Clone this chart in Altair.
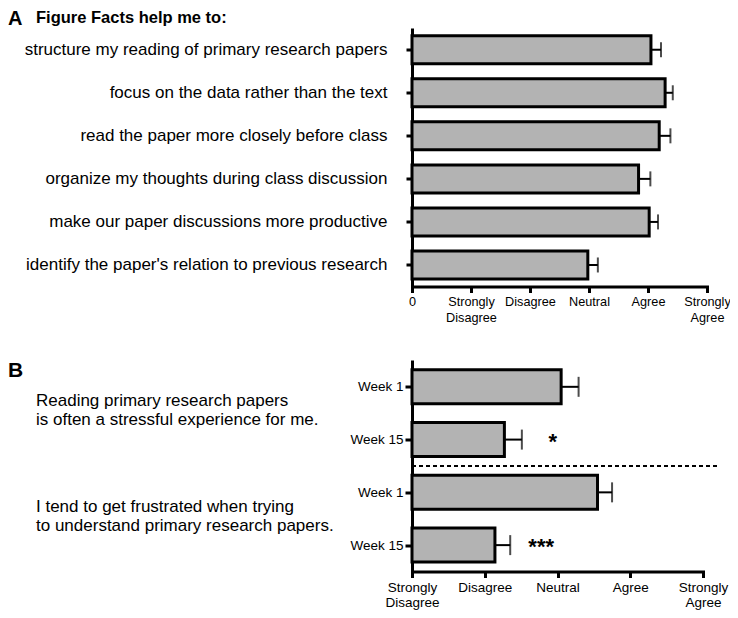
import json
import altair as alt
import pandas as pd

FONT = "Liberation Sans"

# ---------------- data ----------------
panel_a_letter = "A"
panel_a_title = "Figure Facts help me to:"
a_items = [
    "structure my reading of primary research papers",
    "focus on the data rather than the text",
    "read the paper more closely before class",
    "organize my thoughts during class discussion",
    "make our paper discussions more productive",
    "identify the paper's relation to previous research",
]
a_means = [4.05, 4.29, 4.19, 3.84, 4.02, 2.98]
a_sems = [0.17, 0.13, 0.19, 0.20, 0.15, 0.17]
a_tick_values = [0, 1, 2, 3, 4, 5]
a_tick_labels = [["0"], ["Strongly", "Disagree"], ["Disagree"], ["Neutral"], ["Agree"], ["Strongly", "Agree"]]

panel_b_letter = "B"
b_questions = [
    "Reading primary research papers\nis often a stressful experience for me.",
    "I tend to get frustrated when trying\nto understand primary research papers.",
]
b_weeks = ["Week 1", "Week 15", "Week 1", "Week 15"]
b_question_of_row = [0, 0, 1, 1]
b_means = [3.05, 2.27, 3.55, 2.14]
b_sems = [0.24, 0.24, 0.20, 0.21]
b_stars = ["", "*", "", "***"]
b_tick_values = [1, 2, 3, 4, 5]
b_tick_labels = [["Strongly", "Disagree"], ["Disagree"], ["Neutral"], ["Agree"], ["Strongly", "Agree"]]

# ---------------- frames ----------------
dfa = pd.DataFrame({"row": list(range(len(a_items))), "item": a_items, "mean": a_means, "sem": a_sems})
dfa["upper"] = dfa["mean"] + dfa["sem"]

dfb = pd.DataFrame({"row": list(range(len(b_weeks))), "week": b_weeks, "mean": b_means,
                    "sem": b_sems, "star": b_stars, "q": b_question_of_row})
dfb["upper"] = dfb["mean"] + dfb["sem"]
dfq = dfb.groupby("q", as_index=False)["row"].mean()
dfq["text"] = [b_questions[i] for i in dfq["q"]]
sep = pd.DataFrame({"pos": [dfb[dfb.q == 0]["row"].max() + 0.5]})

BAR_FILL = "#b3b3b3"


def xaxis(values, labels, offset, size, lh):
    expr = json.dumps(labels) + "[datum.value - %d]" % offset
    return alt.Axis(values=values, labelExpr=expr, title=None, labelAlign="center",
                    labelBaseline="top", labelPadding=3, labelFontSize=size,
                    labelLineHeight=lh, tickSize=6)


# ---------------- panel A ----------------
xa_scale = alt.Scale(domain=[0, 5], nice=False, zero=False, padding=0)
ya_scale = alt.Scale(domain=[-0.47, 5.5], reverse=True, nice=False, zero=False, padding=0)
ya_axis = alt.Axis(values=list(range(len(a_items))), labelExpr=json.dumps(a_items) + "[datum.value]",
                   title=None, labelFontSize=17, labelPadding=19, tickSize=6, labelLimit=1000)

a_base = alt.Chart(dfa)
a_bars = a_base.mark_bar(orient="horizontal", size=28, fill=BAR_FILL, stroke="black", strokeWidth=3).encode(
    x=alt.X("mean:Q", scale=xa_scale, axis=xaxis(a_tick_values, a_tick_labels, 0, 12.7, 15.5)),
    x2=alt.datum(0),
    y=alt.Y("row:Q", scale=ya_scale, axis=ya_axis),
)
a_err = a_base.mark_rule(color="black", strokeWidth=2).encode(x="mean:Q", x2="upper:Q", y="row:Q")
a_cap = a_base.mark_tick(orient="vertical", size=15, thickness=2, color="black").encode(x="upper:Q", y="row:Q")
a_letter = alt.Chart(pd.DataFrame({"t": [panel_a_letter]})).mark_text(
    align="left", baseline="alphabetic", font=FONT, fontWeight="bold", fontSize=20, color="black"
).encode(text="t:N", x=alt.value(-404), y=alt.value(-4.5))
a_title = alt.Chart(pd.DataFrame({"t": [panel_a_title]})).mark_text(
    align="left", baseline="alphabetic", font=FONT, fontWeight="bold", fontSize=16.5, color="black"
).encode(text="t:N", x=alt.value(-376), y=alt.value(-7))

panel_a = alt.layer(a_bars, a_err, a_cap, a_letter, a_title).properties(width=295, height=257)

# ---------------- panel B ----------------
xb_scale = alt.Scale(domain=[1, 5], nice=False, zero=False, padding=0)
yb_scale = alt.Scale(domain=[-0.48, 3.5], reverse=True, nice=False, zero=False, padding=0)
yb_axis = alt.Axis(values=list(range(len(b_weeks))), labelExpr=json.dumps(b_weeks) + "[datum.value]",
                   title=None, labelFontSize=13.5, labelPadding=2, tickSize=7)

b_base = alt.Chart(dfb)
b_bars = b_base.mark_bar(orient="horizontal", size=34, fill=BAR_FILL, stroke="black", strokeWidth=3).encode(
    x=alt.X("mean:Q", scale=xb_scale, axis=xaxis(b_tick_values, b_tick_labels, 1, 13.5, 15)),
    x2=alt.datum(1),
    y=alt.Y("row:Q", scale=yb_scale, axis=yb_axis),
)
b_err = b_base.mark_rule(color="black", strokeWidth=2).encode(x="mean:Q", x2="upper:Q", y="row:Q")
b_cap = b_base.mark_tick(orient="vertical", size=20, thickness=2, color="black").encode(x="upper:Q", y="row:Q")
b_star = b_base.mark_text(align="center", baseline="alphabetic", dx=31, dy=9, fontSize=22,
                          fontWeight="bold", font=FONT, color="black").encode(
    x="upper:Q", y="row:Q", text="star:N")
b_sep = alt.Chart(sep).mark_rule(color="black", strokeWidth=2, strokeDash=[4, 3]).encode(
    y=alt.Y("pos:Q"), x=alt.datum(1), x2=alt.datum(5.23))
b_q = alt.Chart(dfq).mark_text(align="left", baseline="alphabetic", lineBreak="\n", lineHeight=19,
                               fontSize=17, font=FONT, color="black", dy=-7).encode(
    x=alt.value(-376), y=alt.Y("row:Q"), text="text:N")
b_letter = alt.Chart(pd.DataFrame({"t": [panel_b_letter]})).mark_text(
    align="left", baseline="alphabetic", font=FONT, fontWeight="bold", fontSize=21, color="black"
).encode(text="t:N", x=alt.value(-404), y=alt.value(15))

panel_b = alt.layer(b_bars, b_err, b_cap, b_star, b_sep, b_q, b_letter).properties(width=291, height=210)

chart = alt.vconcat(panel_a, panel_b, spacing=75, bounds="flush").properties(
    autosize=alt.AutoSizeParams(type="none"),
    padding={"left": 404, "top": 21.5, "right": 318, "bottom": 580.5},
).configure_view(stroke=None).configure_axis(
    domainColor="black", domainWidth=3, domainCap="square", tickColor="black", tickWidth=3,
    labelColor="black", labelFont=FONT, grid=False
)

chart.save("out.html", embed_options={"renderer": "svg", "actions": False})
